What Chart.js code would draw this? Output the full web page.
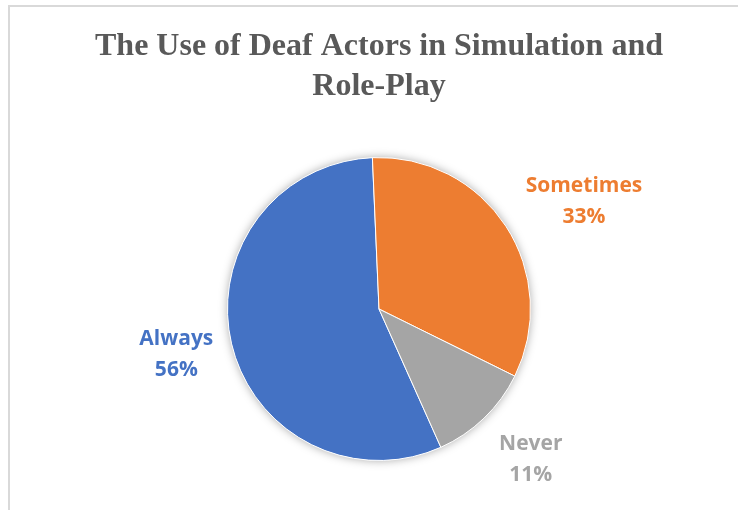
<!DOCTYPE html>
<html>
<head>
<meta charset="utf-8">
<script src="https://cdn.jsdelivr.net/npm/chart.js@4/dist/chart.umd.min.js"></script>
<style>
  html, body { margin: 0; padding: 0; background: #fff; overflow: hidden; }
  #frame {
    position: absolute; left: 8px; top: 5px;
    width: 742px; height: 520px;
    border-top: 2px solid #d9d9d9; border-left: 2px solid #d9d9d9;
  }
  #wrap { position: relative; width: 738px; height: 503px; }
</style>
</head>
<body>
<div id="frame"><div id="wrap"><canvas id="pieChart"></canvas></div></div>
<script>
const labels = ["Always", "Sometimes", "Never"];
const shares = [56, 33, 11];
const colors = ["#4472C4", "#ED7D31", "#A5A5A5"];

// soft shadow under the whole pie
const pieShadow = {
  id: "pieShadow",
  beforeDatasetsDraw(chart) {
    const arc = chart.getDatasetMeta(0).data[0];
    if (!arc) return;
    const ctx = chart.ctx;
    ctx.save();
    ctx.shadowColor = "rgba(0,0,0,0.35)";
    ctx.shadowBlur = 10;
    ctx.fillStyle = "#fff";
    ctx.beginPath();
    ctx.arc(arc.x, arc.y, arc.outerRadius, 0, Math.PI * 2);
    ctx.fill();
    ctx.restore();
  },
};

// category + percent, outside each slice
const sliceLabels = {
  id: "sliceLabels",
  afterDatasetsDraw(chart, args, opts) {
    const ctx = chart.ctx;
    const meta = chart.getDatasetMeta(0);
    ctx.save();
    ctx.font = "bold 21px 'Open Sans'";
    ctx.textAlign = "center";
    ctx.textBaseline = "middle";
    meta.data.forEach((arc, i) => {
      const place = opts.place[i];
      const mid = (arc.startAngle + arc.endAngle) / 2 + place.turn * Math.PI / 180;
      const r = arc.outerRadius + place.gap;
      const x = arc.x + Math.cos(mid) * r;
      const y = arc.y + Math.sin(mid) * r;
      ctx.fillStyle = colors[i];
      ctx.fillText(labels[i], x, y - 15);
      ctx.fillText(shares[i] + "%", x, y + 16);
    });
    ctx.restore();
  },
};

new Chart(document.getElementById("pieChart"), {
  type: "pie",
  data: {
    labels: labels,
    datasets: [{
      data: shares,
      backgroundColor: colors,
      borderColor: "#fff",
      borderWidth: 1,
    }],
  },
  options: {
    responsive: true,
    maintainAspectRatio: false,
    animation: false,
    rotation: -204.1,
    layout: { padding: { top: 0, bottom: 49 } },
    plugins: {
      legend: { display: false },
      tooltip: { enabled: false },
      title: {
        display: true,
        text: ["The Use of Deaf Actors in Simulation and", "Role-Play"],
        color: "#595959",
        font: { family: "'Liberation Serif'", size: 32, weight: "bold", lineHeight: 1.25 },
        padding: { top: 19.6, bottom: 50.4 },
      },
      sliceLabels: {
        place: [
          { gap: 56, turn: 0.9 },
          { gap: 80, turn: 5.4 },
          { gap: 62, turn: -1.4 },
        ],
      },
    },
  },
  plugins: [pieShadow, sliceLabels],
});
</script>
</body>
</html>
